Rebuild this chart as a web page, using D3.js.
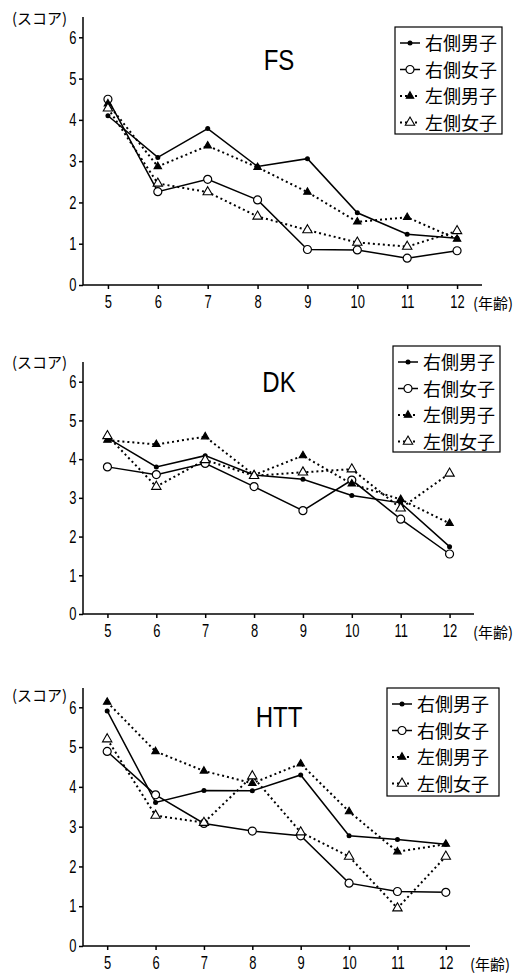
<!DOCTYPE html>
<head>
    <meta charset="utf-8">
    <script src="https://d3js.org/d3.v7.min.js"></script>
    <style>
        html, body { padding: 0; margin: 0; background: #fff; }
        svg { display: block; }
        .tick text { font-family: "Liberation Sans", sans-serif; font-size: 18px; fill: #000; }
        .axis path, .axis line { stroke: #000; stroke-width: 1.5; }
        .jp { font-family: "Noto Sans CJK JP", sans-serif; fill: #000; }
        .title { font-family: "Liberation Sans", sans-serif; font-size: 30px; fill: #000; }
    </style>
</head>

<body>
<svg width="531" height="976"></svg>
<script>
    // ages on x axis
    var ages = [5, 6, 7, 8, 9, 10, 11, 12];
    var yTicks = [0, 1, 2, 3, 4, 5, 6];
    var seriesNames = ["右側男子", "右側女子", "左側男子", "左側女子"];

    // FS scores
    var fsRightBoys  = [4.10, 3.09, 3.79, 2.87, 3.06, 1.75, 1.23, 1.13];
    var fsRightGirls = [4.50, 2.26, 2.56, 2.06, 0.86, 0.85, 0.65, 0.83];
    var fsLeftBoys   = [4.39, 2.87, 3.37, 2.85, 2.25, 1.53, 1.64, 1.11];
    var fsLeftGirls  = [4.28, 2.46, 2.25, 1.66, 1.33, 1.03, 0.93, 1.31];

    // DK scores
    var dkRightBoys  = [4.55, 3.80, 4.09, 3.59, 3.48, 3.06, 2.87, 1.74];
    var dkRightGirls = [3.80, 3.60, 3.89, 3.29, 2.67, 3.46, 2.45, 1.55];
    var dkLeftBoys   = [4.49, 4.38, 4.58, 3.59, 4.09, 3.36, 2.96, 2.34];
    var dkLeftGirls  = [4.60, 3.29, 3.98, 3.57, 3.66, 3.74, 2.73, 3.63];

    // HTT scores
    var httRightBoys  = [5.91, 3.61, 3.91, 3.90, 4.30, 2.77, 2.68, 2.56];
    var httRightGirls = [4.89, 3.80, 3.08, 2.89, 2.77, 1.58, 1.37, 1.35];
    var httLeftBoys   = [6.13, 4.89, 4.40, 4.09, 4.58, 3.38, 2.37, 2.56];
    var httLeftGirls  = [5.20, 3.28, 3.10, 4.27, 2.86, 2.25, 0.95, 2.25];

    var panels = [
        {title: "FS", series: [fsRightBoys, fsRightGirls, fsLeftBoys, fsLeftGirls],
         left: 83, right: 482, y0: 285, y6: 37.3, top: 17, titleY: 70,
         scoreY: 24, ageX: 473, legend: {x: 395, y: 27, w: 107, h: 107}},
        {title: "DK", series: [dkRightBoys, dkRightGirls, dkLeftBoys, dkLeftGirls],
         left: 83, right: 474, y0: 614, y6: 381.7, top: 362, titleY: 392,
         scoreY: 368, ageX: 473, legend: {x: 393, y: 346, w: 107, h: 106}},
        {title: "HTT", series: [httRightBoys, httRightGirls, httLeftBoys, httLeftGirls],
         left: 83, right: 470, y0: 946, y6: 707.3, top: 688, titleY: 727,
         scoreY: 701, ageX: 470, legend: {x: 387, y: 688, w: 112, h: 108}}
    ];

    var dashed = [false, false, true, true];
    var svg = d3.select("svg");

    function marker(sel, i) {
        if (i === 0) {
            sel.append("circle").attr("r", 2.5).attr("fill", "#000");
        } else if (i === 1) {
            sel.append("circle").attr("r", 4).attr("fill", "#fff").attr("stroke", "#000").attr("stroke-width", 1.2);
        } else {
            sel.append("path")
                .attr("d", d3.symbol().type(d3.symbolTriangle).size(i === 2 ? 24 : 38)())
                .attr("fill", i === 2 ? "#000" : "#fff")
                .attr("stroke", "#000").attr("stroke-width", 1.1);
        }
    }

    panels.forEach(function(p) {
        var g = svg.append("g");
        var x = d3.scaleLinear().domain([4.5, 12.5]).range([p.left, p.right]);
        var y = d3.scaleLinear().domain([0, 6]).range([p.y0, p.y6]);

        // x axis
        var xa = g.append("g").attr("class", "axis")
            .attr("transform", "translate(0," + p.y0 + ")")
            .call(d3.axisBottom(x).tickValues(ages).tickSize(4).tickPadding(6).tickFormat(d3.format("d")));
        xa.select(".domain").attr("d", "M" + p.left + ",0H" + p.right);
        xa.selectAll(".tick text").attr("transform", "scale(0.72,1)");

        // y axis
        var ya = g.append("g").attr("class", "axis")
            .attr("transform", "translate(" + p.left + ",0)")
            .call(d3.axisLeft(y).tickValues(yTicks).tickSize(4).tickPadding(3).tickFormat(d3.format("d")));
        ya.select(".domain").attr("d", "M0," + p.y0 + "V" + p.top);
        ya.selectAll(".tick text").attr("x", -9).attr("transform", "scale(0.72,1)");

        g.append("text").attr("class", "jp")
            .attr("x", 12).attr("y", p.scoreY)
            .style("font-size", "15px")
            .text("(スコア)");

        g.append("text").attr("class", "jp")
            .attr("x", p.ageX).attr("y", p.y0 + 24)
            .style("font-size", "15px")
            .text("(年齢)");

        g.append("text").attr("class", "title")
            .attr("transform", "translate(279," + p.titleY + ") scale(0.8,1)")
            .attr("text-anchor", "middle")
            .text(p.title);

        var line = d3.line()
            .x(function(d, i) { return x(ages[i]); })
            .y(function(d) { return y(d); });

        p.series.forEach(function(vals, si) {
            g.append("path")
                .attr("d", line(vals))
                .attr("fill", "none")
                .attr("stroke", "#000")
                .attr("stroke-width", dashed[si] ? 2 : 1.5)
                .attr("stroke-dasharray", dashed[si] ? "2,3" : null);
        });
        p.series.forEach(function(vals, si) {
            vals.forEach(function(v, i) {
                var m = g.append("g").attr("transform", "translate(" + x(ages[i]) + "," + y(v) + ")");
                marker(m, si);
            });
        });

        // legend
        var L = p.legend;
        g.append("rect")
            .attr("x", L.x).attr("y", L.y).attr("width", L.w).attr("height", L.h)
            .attr("fill", "#fff").attr("stroke", "#000").attr("stroke-width", 1.2);
        seriesNames.forEach(function(name, si) {
            var ry = L.y + 16 + si * 26.5;
            g.append("line")
                .attr("x1", L.x + 5).attr("x2", L.x + 25)
                .attr("y1", ry).attr("y2", ry)
                .attr("stroke", "#000")
                .attr("stroke-width", dashed[si] ? 2 : 1.5)
                .attr("stroke-dasharray", dashed[si] ? "2,3" : null);
            var m = g.append("g").attr("transform", "translate(" + (L.x + 15) + "," + ry + ")");
            marker(m, si);
            g.append("text").attr("class", "jp")
                .attr("x", L.x + 30).attr("y", ry + 7)
                .style("font-size", "18px")
                .text(name);
        });
    });
</script>
</body>
